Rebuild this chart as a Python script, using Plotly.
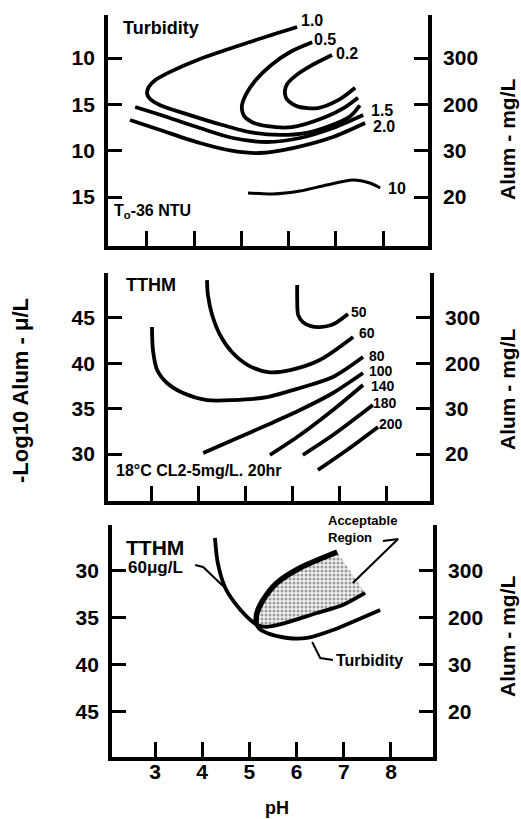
import plotly.graph_objects as go

# ---------------- DATA ----------------
ph_ticks = [3, 4, 5, 6, 7, 8]
ph_ticktext = ["3", "4", "5", "6", "7", "8"]
right_ticktext = ["300", "200", "30", "20"]

# Panel 1 (Turbidity) - left scale positions and labels
p1_ticks = [10, 15, 20, 25]
p1_ticktext = ["10", "15", "10", "15"]
turb_02_ph = [6.92, 6.45, 6.15, 5.97, 5.92, 5.97, 6.20, 6.62, 7.05, 7.41]
turb_02_y = [9.68, 10.9, 11.9, 12.8, 13.6, 14.5, 15.25, 15.4, 14.55, 13.2]
turb_05_ph = [6.50, 6.05, 5.62, 5.30, 5.10, 5.01, 5.05, 5.22, 5.55, 6.07, 6.77, 7.20, 7.47]
turb_05_y = [8.3, 9.3, 10.8, 12.4, 13.9, 15.2, 16.2, 16.9, 17.35, 17.45, 16.4, 15.3, 14.3]
turb_10_ph = [6.18, 5.18, 4.12, 3.49, 3.17, 3.04, 3.0, 3.06, 3.28, 3.81, 4.44, 5.18, 5.82, 6.35, 6.88, 7.30, 7.51]
turb_10_y = [6.66, 8.27, 10.1, 11.5, 12.4, 13.1, 13.8, 14.4, 15.1, 16.0, 17.0, 18.0, 18.3, 18.1, 17.3, 16.3, 15.1]
turb_15_ph = [2.75, 3.42, 4.12, 4.82, 5.54, 6.24, 6.94, 7.58]
turb_15_y = [15.29, 16.36, 17.55, 18.63, 19.06, 18.63, 17.55, 16.15]
turb_20_ph = [2.64, 3.28, 4.12, 4.82, 5.39, 6.09, 6.94, 7.62]
turb_20_y = [16.69, 17.77, 19.17, 20.03, 20.25, 19.71, 18.52, 17.01]
turb_100_ph = [5.14, 5.67, 6.24, 6.81, 7.36, 7.72, 7.94]
turb_100_y = [24.56, 24.67, 24.35, 23.70, 23.16, 23.48, 24.02]

# Panel 2 (TTHM)
p2_ticks = [30, 35, 40, 45]
p2_ticktext = ["30", "35", "40", "45"]
p2_right_order = ["20", "30", "200", "300"]
tthm_50_ph = [6.09, 6.09, 6.11, 6.21, 6.38, 6.57, 6.80, 6.94, 7.17]
tthm_50_y = [48.63, 46.98, 45.33, 44.55, 44.1, 44.0, 44.2, 44.55, 45.44]
tthm_60_ph = [4.17, 4.19, 4.28, 4.45, 4.70, 5.04, 5.47, 5.94, 6.57, 7.28]
tthm_60_y = [49.18, 47.53, 45.33, 43.12, 41.25, 39.81, 39.04, 39.26, 40.36, 42.90]
tthm_80_ph = [3.0, 3.02, 3.11, 3.32, 3.66, 4.17, 4.72, 5.45, 6.15, 6.85, 7.49]
tthm_80_y = [44.0, 41.47, 39.26, 37.83, 36.73, 35.95, 35.95, 36.28, 37.28, 38.49, 40.69]
tthm_100_ph = [4.09, 4.72, 5.45, 6.15, 6.85, 7.49]
tthm_100_y = [30.11, 31.54, 33.20, 34.85, 36.73, 38.93]
tthm_140_ph = [5.51, 6.15, 6.85, 7.49]
tthm_140_y = [29.89, 32.09, 34.85, 37.61]
tthm_180_ph = [6.21, 6.85, 7.70]
tthm_180_y = [29.89, 32.09, 35.4]
tthm_200_ph = [6.53, 7.15, 7.81]
tthm_200_y = [28.24, 30.44, 32.98]

# Panel 3 (combined)
p3_ticks = [30, 35, 40, 45]
p3_ticktext = ["30", "35", "40", "45"]
comb_tthm_ph = [4.27, 4.33, 4.48, 4.69, 4.95, 5.16, 5.35, 5.71, 6.43, 6.98, 7.45]
comb_tthm_y = [26.49, 29.15, 31.70, 33.40, 34.89, 35.74, 35.95, 35.60, 34.47, 33.62, 32.34]
comb_turb_ph = [6.86, 6.07, 5.58, 5.29, 5.16, 5.14, 5.20, 5.37, 5.80, 6.22, 6.77, 7.28, 7.77]
comb_turb_y = [27.98, 29.68, 31.28, 33.09, 34.47, 35.53, 36.1, 36.60, 37.13, 37.13, 36.28, 35.21, 34.15]
leader_tthm_ph = [3.85, 4.02, 4.44]
leader_tthm_y = [29.36, 29.57, 31.6]
leader_turb_ph = [6.33, 6.50, 6.77]
leader_turb_y = [37.55, 39.26, 39.47]
leader_region_ph = [7.83, 8.15, 7.19]
leader_region_y = [26.81, 26.6, 31.28]

# ---------------- FIGURE ----------------
FONT = "Liberation Sans"
LW = 3.8
fig = go.Figure()


def curve(x, y, xa, ya, width=LW):
    fig.add_trace(go.Scatter(x=x, y=y, xaxis=xa, yaxis=ya, mode="lines",
                             line=dict(color="black", width=width, shape="spline", smoothing=0.8),
                             hoverinfo="skip"))


def leader(x, y, xa, ya):
    fig.add_trace(go.Scatter(x=x, y=y, xaxis=xa, yaxis=ya, mode="lines",
                             line=dict(color="black", width=2), hoverinfo="skip"))


# panel 1
for xs, ys in [(turb_02_ph, turb_02_y), (turb_05_ph, turb_05_y), (turb_10_ph, turb_10_y),
               (turb_15_ph, turb_15_y), (turb_20_ph, turb_20_y)]:
    curve(xs, ys, "x", "y")
curve(turb_100_ph, turb_100_y, "x", "y", width=3)

# panel 2
for xs, ys in [(tthm_50_ph, tthm_50_y), (tthm_60_ph, tthm_60_y), (tthm_80_ph, tthm_80_y),
               (tthm_100_ph, tthm_100_y), (tthm_140_ph, tthm_140_y), (tthm_180_ph, tthm_180_y),
               (tthm_200_ph, tthm_200_y)]:
    curve(xs, ys, "x2", "y2")

# panel 3: acceptable region (inside turbidity upper branch, above TTHM rising branch)
region_ph = comb_turb_ph[:6] + comb_tthm_ph[5:]
region_y = comb_turb_y[:6] + comb_tthm_y[5:]
fig.add_trace(go.Scatter(x=region_ph, y=region_y, xaxis="x3", yaxis="y3", mode="lines",
                         fill="toself", line=dict(width=0, color="rgba(0,0,0,0)"),
                         fillcolor="white",
                         fillpattern=dict(shape=".", fgcolor="#444444", bgcolor="#f2f2f2",
                                          size=4, solidity=0.45),
                         hoverinfo="skip"))
curve(comb_tthm_ph, comb_tthm_y, "x3", "y3")
curve(comb_turb_ph[:6], comb_turb_y[:6], "x3", "y3", width=5.5)
curve(comb_turb_ph[5:], comb_turb_y[5:], "x3", "y3")
leader(leader_tthm_ph, leader_tthm_y, "x3", "y3")
leader(leader_turb_ph, leader_turb_y, "x3", "y3")
leader(leader_region_ph, leader_region_y, "x3", "y3")

# empty traces so the right-hand (overlaying) axes are drawn
for xa, ya in [("x", "y4"), ("x2", "y5"), ("x3", "y6")]:
    fig.add_trace(go.Scatter(x=[None], y=[None], xaxis=xa, yaxis=ya, mode="lines",
                             hoverinfo="skip"))

W, H = 521, 819


def xd(a, b):
    return [a / W, b / W]


def yd(top, bot):
    return [1 - bot / H, 1 - top / H]


tickfont = dict(family=FONT, size=21, color="black", weight="bold")


def xaxis(dom, rng, anchor, labels):
    return dict(domain=dom, range=rng, anchor=anchor, tickvals=ph_ticks, ticktext=ph_ticktext,
                showticklabels=labels, ticks="inside", ticklen=15, tickwidth=3, tickcolor="black",
                showline=True, linewidth=LW, linecolor="black", showgrid=False, zeroline=False,
                tickfont=tickfont, ticklabelstandoff=-7, fixedrange=True)


def yaxis(dom, rng, anchor, vals, text, side="left", overlay=None):
    d = dict(range=rng, anchor=anchor, tickvals=vals, ticktext=text, side=side,
             ticks="inside", ticklen=14, tickwidth=2.5, tickcolor="black",
             showline=True, linewidth=LW, linecolor="black", showgrid=False, zeroline=False,
             tickfont=tickfont, ticklabelstandoff=5 if side == "left" else 7, fixedrange=True)
    if overlay:
        d["overlaying"] = overlay
    else:
        d["domain"] = dom
    return d


p1x, p1y = xd(108, 428), yd(15, 246)
p2x, p2y = xd(108, 430), yd(273, 501)
p3x, p3y = xd(112, 433), yd(525, 757)
r1, r2, r3 = [30.28, 5.361], [24.82, 49.96], [49.79, 25.11]

fig.update_layout(
    width=W, height=H, margin=dict(l=0, r=0, t=0, b=0),
    paper_bgcolor="white", plot_bgcolor="white", showlegend=False,
    font=dict(family=FONT, color="black", weight="bold"),
    xaxis=xaxis(p1x, [2.174, 8.953], "y", False),
    xaxis2=xaxis(p2x, [2.064, 8.915], "y2", False),
    xaxis3=xaxis(p3x, [2.089, 8.89], "y3", True),
    yaxis=yaxis(p1y, r1, "x", p1_ticks, p1_ticktext),
    yaxis2=yaxis(p2y, r2, "x2", p2_ticks, p2_ticktext),
    yaxis3=yaxis(p3y, r3, "x3", p3_ticks, p3_ticktext),
    yaxis4=yaxis(None, r1, "x", p1_ticks, right_ticktext, side="right", overlay="y"),
    yaxis5=yaxis(None, r2, "x2", p2_ticks, p2_right_order, side="right", overlay="y2"),
    yaxis6=yaxis(None, r3, "x3", p3_ticks, right_ticktext, side="right", overlay="y3"),
)

ann = []


def lab(text, x, y, xr, yr, size, anchor="left"):
    ann.append(dict(text=text, x=x, y=y, xref=xr, yref=yr, showarrow=False, xanchor=anchor,
                    yanchor="middle", borderpad=0,
                    font=dict(family=FONT, size=size, color="black", weight="bold")))


def plab(text, px, py, size, angle=0, xanchor="center"):
    ann.append(dict(text=text, x=px / W, y=1 - py / H, xref="paper", yref="paper",
                    showarrow=False, textangle=angle, xanchor=xanchor, yanchor="middle",
                    align="left", borderpad=0,
                    font=dict(family=FONT, size=size, color="black", weight="bold")))


# panel 1 labels
lab("Turbidity", 2.47, 6.76, "x", "y", 18)
lab("T<sub>o</sub>-36 NTU", 2.28, 26.6, "x", "y", 16)
for t, x, y in [("1.0", 6.24, 5.90), ("0.5", 6.52, 7.95), ("0.2", 6.98, 9.46),
                ("1.5", 7.72, 15.61), ("2.0", 7.77, 17.34), ("10", 8.08, 24.13)]:
    lab(t, x, y, "x", "y", 16)
# panel 2 labels
lab("TTHM", 2.43, 48.63, "x2", "y2", 18)
lab("18°C CL2-5mg/L. 20hr", 2.21, 28.13, "x2", "y2", 16)
for t, x, y in [("50", 7.21, 45.66), ("60", 7.38, 43.34), ("80", 7.60, 40.85),
                ("100", 7.60, 39.15), ("140", 7.64, 37.45), ("180", 7.68, 35.62), ("200", 7.81, 33.31)]:
    lab(t, x, y, "x2", "y2", 14)
# panel 3 labels
lab("TTHM", 2.36, 27.45, "x3", "y3", 21)
lab("60μg/L", 2.41, 29.68, "x3", "y3", 17)
plab("Acceptable<br>Region", 327, 529, 13, xanchor="left")
lab("Turbidity", 6.81, 39.5, "x3", "y3", 16)

# axis titles
plab("-Log10 Alum - μ/L", 20, 391, 22, angle=-90)
for yc in [140, 390, 637]:
    plab("Alum - mg/L", 507, yc, 21, angle=-90)
plab("pH", 277, 808, 18)

fig.update_layout(annotations=ann)
fig.write_html("out.html")
